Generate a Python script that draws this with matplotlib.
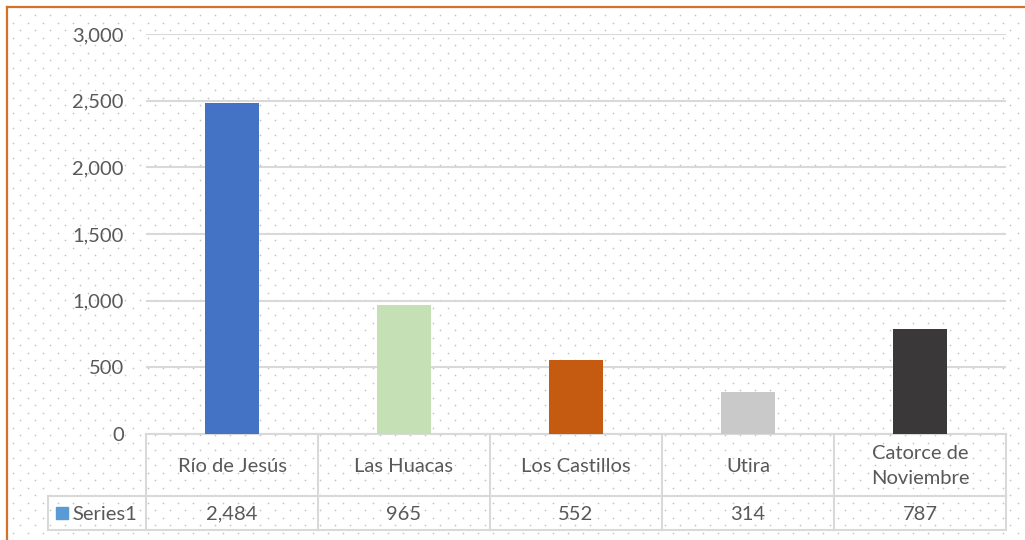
import matplotlib.pyplot as plt
import numpy as np

categories = ['Río de Jesús', 'Las Huacas', 'Los Castillos', 'Utira', 'Catorce de\nNoviembre']
values = [2484, 965, 552, 314, 787]
value_labels = ['2,484', '965', '552', '314', '787']
colors = ['#4472C4', '#C5E0B4', '#C55A11', '#C9C9C9', '#3A3838']
series_name = 'Series1'

W, H = 1025, 540
plt.rcParams['font.family'] = ['Lato', 'DejaVu Sans']
txt = '#595959'
line_c = '#D9D9D9'
fs = 14.5

fig = plt.figure(figsize=(W / 100, H / 100), dpi=100)

# overlay in pixel coords for background pattern, border and the data table
bg = fig.add_axes([0, 0, 1, 1], zorder=0)
bg.set_xlim(0, W)
bg.set_ylim(H, 0)
bg.axis('off')

# dotted background
ys = np.arange(15, H, 7.5)
for i, yy in enumerate(ys):
    xs = np.arange(20 if i % 2 == 0 else 12.5, W, 15)
    bg.scatter(xs, np.full_like(xs, yy), s=1.5, color='#C4C4C4', linewidths=0)

# orange frame (left and top)
bg.plot([7, 7], [7, H], color='#D4712A', lw=1.6)
bg.plot([7, W], [7, 7], color='#D4712A', lw=1.6)

left, right, top, zero = 146, 1006, 34, 434
ax = fig.add_axes([left / W, (H - zero) / H, (right - left) / W, (zero - top) / H], zorder=1)
ax.patch.set_alpha(0)
x = np.arange(len(categories))
ax.bar(x, values, width=0.315, color=colors, zorder=3)
ax.set_xlim(-0.5, len(categories) - 0.5)
ax.set_ylim(0, 3000)
ax.set_yticks(np.arange(0, 3001, 500))
ax.set_yticklabels([f'{v:,}' for v in range(0, 3001, 500)], color=txt, fontsize=fs)
ax.yaxis.grid(True, color=line_c, lw=1.5)
ax.tick_params(axis='y', length=0, pad=16)
ax.set_xticks([])
for s in ax.spines.values():
    s.set_visible(False)

# data table
cell_w = (right - left) / len(categories)
row1, row2 = 496, 530
key_left = 48
for k in range(len(categories) + 1):
    xx = left + k * cell_w
    bg.plot([xx, xx], [zero, row2], color=line_c, lw=1.5, zorder=2)
bg.plot([left, right], [zero, zero], color=line_c, lw=1.5, zorder=2)
bg.plot([key_left, right], [row1, row1], color=line_c, lw=1.5, zorder=2)
bg.plot([key_left, right], [row2, row2], color=line_c, lw=1.5, zorder=2)
bg.plot([key_left, key_left], [row1, row2], color=line_c, lw=1.5, zorder=2)

for k, (cat, lab) in enumerate(zip(categories, value_labels)):
    cx = left + (k + 0.5) * cell_w
    bg.text(cx, (zero + row1) / 2 + 1, cat, ha='center', va='center', color=txt,
            fontsize=fs, linespacing=1.55, zorder=3)
    bg.text(cx, (row1 + row2) / 2 + 1, lab, ha='center', va='center', color=txt,
            fontsize=fs, zorder=3)

bg.add_patch(plt.Rectangle((56, 507), 12, 12, color='#5B9BD5', zorder=3))
bg.text(72, (row1 + row2) / 2 + 1, series_name, ha='left', va='center', color=txt,
        fontsize=fs, zorder=3)

fig.savefig('out.png', dpi=100, facecolor='white')
